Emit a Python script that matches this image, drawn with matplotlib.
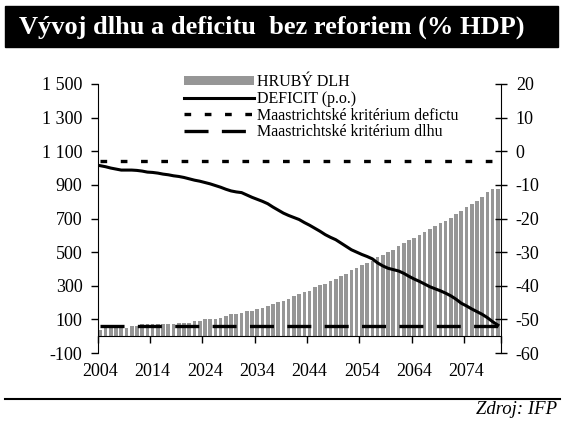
"""Vývoj dlhu a deficitu bez reforiem — debt bars (left axis) + deficit line (right axis)."""

import matplotlib

matplotlib.use("Agg")
import matplotlib.pyplot as plt  # noqa: E402
from matplotlib.lines import Line2D  # noqa: E402
from matplotlib.patches import Patch, Rectangle  # noqa: E402

plt.rcParams["font.family"] = ["Liberation Serif", "DejaVu Serif"]
plt.rcParams["lines.scale_dashes"] = False

# --- data ---
years = list(range(2004, 2081))
debt = [36, 48, 50, 51, 50, 49, 61, 62, 71, 71, 71, 72, 71, 73, 73, 77, 79, 79, 89, 89,
        101, 101, 101, 107, 122, 131, 131, 135, 149, 149, 161, 167, 180, 190, 202, 208,
        220, 238, 250, 260, 268, 292, 306, 310, 331, 339, 359, 369, 393, 405, 423, 438,
        448, 470, 484, 500, 514, 538, 556, 570, 583, 601, 621, 639, 657, 675, 687, 704,
        728, 744, 768, 788, 804, 829, 855, 875, 878]
deficit = [-4.3, -4.6, -5.0, -5.3, -5.6, -5.6, -5.6, -5.7, -5.9, -6.2, -6.3, -6.5, -6.8,
           -7.0, -7.3, -7.5, -7.8, -8.2, -8.6, -8.9, -9.3, -9.7, -10.2, -10.7, -11.3,
           -11.8, -12.1, -12.3, -13.0, -13.7, -14.3, -14.9, -15.6, -16.6, -17.5, -18.4,
           -19.1, -19.7, -20.3, -21.2, -22.0, -22.9, -23.8, -24.8, -25.6, -26.3, -27.3,
           -28.3, -29.3, -30.0, -30.7, -31.3, -32.0, -33.2, -34.1, -34.8, -35.2, -35.6,
           -36.3, -37.2, -38.0, -38.7, -39.5, -40.3, -40.9, -41.5, -42.2, -43.0, -44.0,
           -45.2, -46.0, -46.9, -47.7, -48.5, -49.5, -50.7, -51.7]
crit_deficit = -3   # Maastricht deficit criterion (% HDP), right axis
crit_debt = 60      # Maastricht debt criterion (% HDP), left axis

left_ticks = [-100, 100, 300, 500, 700, 900, 1100, 1300, 1500]
left_labels = ["-100", "100", "300", "500", "700", "900", "1 100", "1 300", "1 500"]
right_ticks = [-60, -50, -40, -30, -20, -10, 0, 10, 20]
right_labels = ["-60", "-50", "-40", "-30", "-20", "-10", "0", "10", "20"]
label_years = [2004, 2014, 2024, 2034, 2044, 2054, 2064, 2074]

labels = ["HRUBÝ DLH", "DEFICIT (p.o.)",
          "Maastrichtské kritérium defictu", "Maastrichtské kritérium dlhu"]

BAR_GRAY = "#969696"
DOTTED = (0, (4.8, 9.8))
DASHED = (0, (17.3, 9.6))
TICK_FS = 13

W, H = 565, 425
fig = plt.figure(figsize=(W / 100, H / 100), dpi=100)

# header bar + title
fig.add_artist(Rectangle((5 / W, 1 - 47 / H), 553 / W, 41 / H,
                         transform=fig.transFigure, color="black", zorder=0))
fig.text(19 / W, 1 - 33.5 / H, "Vývoj dlhu a deficitu  bez reforiem (% HDP)",
         color="white", fontsize=19, fontweight="bold", va="baseline")

ax = fig.add_axes([97.7 / W, 1 - 353 / H, 402.8 / W, 269 / H])
idx = list(range(len(years)))

ax.bar(idx, debt, width=0.7, color=BAR_GRAY, zorder=1)
ax.plot(idx, [crit_debt] * len(idx), color="black", lw=2.4, ls=DASHED, zorder=3)
ax.set_xlim(-0.5, len(years) - 0.5)
ax.set_ylim(-100, 1500)
ax.set_yticks(left_ticks, left_labels)

ax2 = ax.twinx()
ax2.plot(idx, deficit, color="black", lw=2.2, zorder=3)
ax2.plot(idx, [crit_deficit] * len(idx), color="black", lw=2.4, ls=DOTTED, zorder=3)
ax2.set_ylim(-60, 20)
ax2.set_yticks(right_ticks, right_labels)

for a in (ax, ax2):
    a.spines["top"].set_visible(False)
    a.patch.set_visible(False)
ax2.spines["bottom"].set_visible(False)
ax2.spines["left"].set_visible(False)
ax.spines["right"].set_visible(False)

# category axis crosses at 0, ticks between categories
ax.spines["bottom"].set_position(("data", 0))
ax.set_xticks([i - 0.5 for i in range(0, 77, 10)] + [len(years) - 0.5])
ax.tick_params(axis="x", direction="out", length=5, width=1, labelbottom=False)
ax.tick_params(axis="y", direction="out", length=5, width=1, labelsize=TICK_FS, pad=6)
ax2.tick_params(axis="y", direction="inout", length=8, width=1, labelsize=TICK_FS, pad=7)

# year labels sit below the plot area
sec = ax.secondary_xaxis(0)
sec.set_xticks([years.index(y) for y in label_years], [str(y) for y in label_years])
sec.tick_params(length=0, labelsize=TICK_FS, pad=7)
sec.spines["bottom"].set_visible(False)

handles = [
    Patch(facecolor=BAR_GRAY, edgecolor="none"),
    Line2D([], [], color="black", lw=2.2),
    Line2D([], [], color="black", lw=2.4, ls=DOTTED),
    Line2D([], [], color="black", lw=2.4, ls=DASHED),
]
fig.legend(handles, labels, loc="upper left", bbox_to_anchor=(184 / W, 1 - 74 / H),
           frameon=False, fontsize=11.5, handlelength=4.4, handletextpad=0.15,
           labelspacing=0.05, borderpad=0, borderaxespad=0, handleheight=0.55)

# footer
fig.add_artist(Line2D([5 / W, 560 / W], [1 - 399 / H] * 2, color="black", lw=1.5,
                      transform=fig.transFigure))
fig.text(557 / W, 1 - 414 / H, "Zdroj: IFP", fontsize=13.5, style="italic",
         ha="right", va="baseline")

fig.savefig("out.png", dpi=100)
